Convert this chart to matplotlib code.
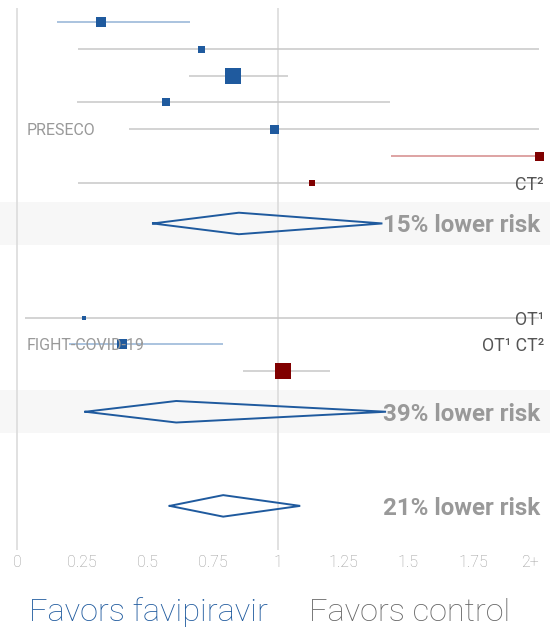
import matplotlib.pyplot as plt

# individual studies: point estimate, CI low, CI high, marker size (px)
estimate = [0.322, 0.705, 0.828, 0.57, 0.983, 2.0, 1.13, 0.257, 0.403, 1.02]
ci_low = [0.153, 0.235, 0.66, 0.23, 0.431, 1.434, 0.232, 0.029, 0.2, 0.864]
ci_high = [0.663, 2.0, 1.04, 1.43, 2.0, 2.0, 2.0, 2.0, 0.79, 1.2]
weight_px = [10, 7, 16, 8, 9, 9, 6, 4, 10, 16]
study_rows = [0, 1, 2, 3, 4, 5, 6, 11, 12, 13]

# pooled estimates
pooled = [0.85, 0.61, 0.79]
pooled_low = [0.521, 0.262, 0.585]
pooled_high = [1.40, 1.414, 1.085]
pooled_rows = [7.5, 14.5, 18]
pooled_text = ['15% lower risk', '39% lower risk', '21% lower risk']
shaded = [True, True, False]

left_labels = {4: 'PRESECO', 12: 'FIGHT-COVID-19'}
right_labels = {6: 'CT²', 11: 'OT¹', 12: 'OT¹ CT²'}

tick_vals = [0, 0.25, 0.5, 0.75, 1, 1.25, 1.5, 1.75, 2]
tick_text = ['0', '0.25', '0.5', '0.75', '1', '1.25', '1.5', '1.75', '2+']

BLUE = '#1f5a9e'
RED = '#800000'
LIGHT_BLUE = '#93b3d6'
LIGHT_RED = '#d48a8a'
GRAY_LINE = '#c8c8c8'
GRID = '#d9d9d9'

plt.rcParams['font.family'] = ['Roboto', 'DejaVu Sans']

fig = plt.figure(figsize=(5.5, 6.28), dpi=100)
ax = fig.add_axes([0, 1 - 550 / 628, 1, 542 / 628])
ax.set_xlim(-17 / 261, 533 / 261)
ax.set_ylim(19.64, -0.51)
x_right = 533 / 261

for s in ax.spines.values():
    s.set_visible(False)
ax.set_yticks([])
ax.set_xticks(tick_vals)
ax.set_xticklabels(tick_text, fontweight='light')
ax.tick_params(axis='x', length=0, pad=3.5, labelsize=11.5, labelcolor='#999999')
# keep "2+" inside the figure
ax.get_xticklabels()[-1].set_horizontalalignment('right')

for xv in (0, 1):
    ax.axvline(xv, color=GRID, lw=1.1, zorder=1)

# shaded bands behind the first two pooled rows
for r, sh in zip(pooled_rows, shaded):
    if sh:
        ax.axhspan(r - 0.8, r + 0.8, color='#f7f7f7', lw=0, zorder=0)

for est, lo, hi, w, r in zip(estimate, ci_low, ci_high, weight_px, study_rows):
    if hi < 1:
        line_c = LIGHT_BLUE
    elif lo > 1:
        line_c = LIGHT_RED
    else:
        line_c = GRAY_LINE
    mark_c = BLUE if est < 1 else RED
    ax.plot([lo, hi], [r, r], color=line_c, lw=1.1, zorder=2, solid_capstyle='butt')
    ax.plot(est, r, marker='s', markersize=w * 0.72, color=mark_c, mew=0, zorder=3)

for est, lo, hi, r, txt in zip(pooled, pooled_low, pooled_high, pooled_rows, pooled_text):
    ax.plot([lo, est, hi, est, lo], [r, r - 0.4, r, r + 0.4, r],
            color=BLUE, lw=1.4, zorder=3, solid_joinstyle='miter')
    ax.text(x_right - 10 / 261, r, txt, ha='right', va='center_baseline',
            fontsize=17.4, fontweight='bold', color='#999999', zorder=4)

for r, txt in left_labels.items():
    ax.text(10 / 261, r, txt, ha='left', va='center_baseline',
            fontsize=11.5, fontweight='normal', color='#999999', zorder=4)
for r, txt in right_labels.items():
    ax.text(x_right - 6 / 261, r, txt, ha='right', va='center_baseline',
            fontsize=12.8, fontweight='normal', color='#555555', zorder=4)

fig.text(29 / 550, 1 - 621 / 628, 'Favors favipiravir', ha='left', va='baseline',
         fontsize=23.4, fontweight='light', color=BLUE)
fig.text(309 / 550, 1 - 621 / 628, 'Favors control', ha='left', va='baseline',
         fontsize=23.4, fontweight='light', color='#666666')

fig.savefig('out.png', dpi=100)
